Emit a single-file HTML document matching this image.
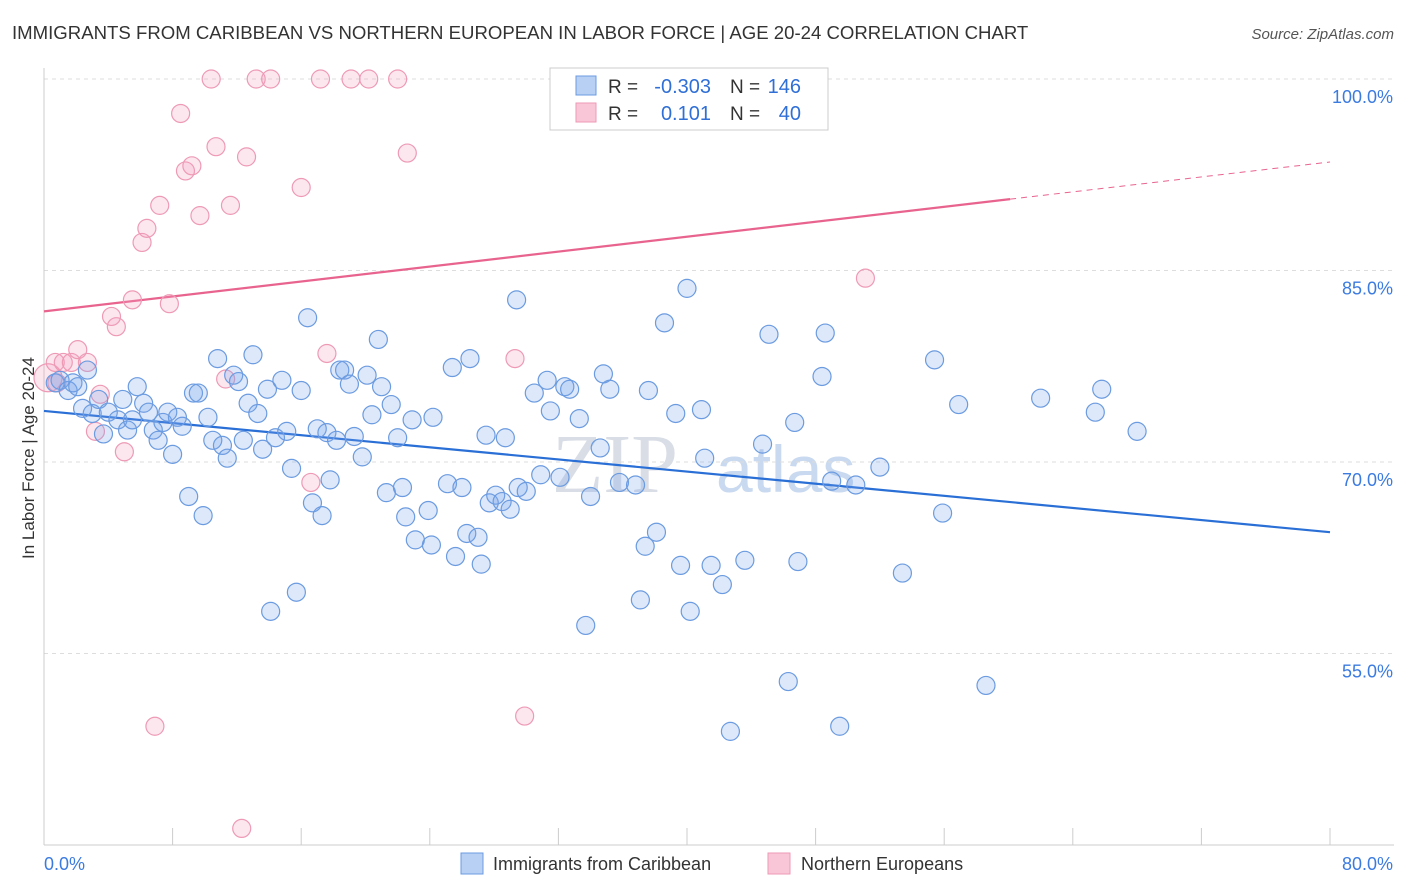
<!DOCTYPE html>
<html><head><meta charset="utf-8">
<style>
body{margin:0;background:#fff;font-family:"Liberation Sans",sans-serif;}
svg{display:block}
</style></head>
<body>
<svg id="chart" width="1406" height="892">
<text x="12" y="39" font-size="18.6" fill="#333">IMMIGRANTS FROM CARIBBEAN VS NORTHERN EUROPEAN IN LABOR FORCE | AGE 20-24 CORRELATION CHART</text>
<text x="1394" y="39" font-size="15" fill="#555" font-style="italic" text-anchor="end">Source: ZipAtlas.com</text>
<text transform="translate(34,458) rotate(-90)" font-size="17" fill="#333" text-anchor="middle">In Labor Force | Age 20-24</text>
<text x="552" y="492" font-size="84" fill="#d8dde6" font-family="Liberation Serif,serif">ZIP</text>
<text x="716" y="492" font-size="66" fill="#c9d9ef">atlas</text>
<g id="grid"></g><g id="axes"></g><g id="lines"></g><g id="pts"></g>
<g>
<rect x="550" y="68" width="278" height="62" fill="#fff" stroke="#ccc"/>
<rect x="576" y="76" width="20" height="19" fill="#b8d0f4" stroke="#6b9be0"/>
<rect x="576" y="103" width="20" height="19" fill="#f8c6d6" stroke="#ee9ab5"/>
<text x="608" y="93" font-size="19" fill="#333">R =</text>
<text x="711" y="93" font-size="20" fill="#2f6fd6" text-anchor="end">-0.303</text>
<text x="730" y="93" font-size="19" fill="#333">N =</text>
<text x="801" y="93" font-size="20" fill="#2f6fd6" text-anchor="end">146</text>
<text x="608" y="120" font-size="19" fill="#333">R =</text>
<text x="711" y="120" font-size="20" fill="#2f6fd6" text-anchor="end">0.101</text>
<text x="730" y="120" font-size="19" fill="#333">N =</text>
<text x="801" y="120" font-size="20" fill="#2f6fd6" text-anchor="end">40</text>
</g>
<g>
<rect x="461" y="853" width="22" height="21" fill="#b8d0f4" stroke="#6b9be0"/>
<text x="493" y="870" font-size="18" fill="#333">Immigrants from Caribbean</text>
<rect x="768" y="853" width="22" height="21" fill="#f8c6d6" stroke="#ee9ab5"/>
<text x="801" y="870" font-size="18" fill="#333">Northern Europeans</text>
</g>
</svg>
<script>
const blueX=[0.7,1.0,1.5,1.8,2.1,2.7,2.4,3.0,3.4,3.7,4.0,4.6,4.9,5.2,5.5,5.8,6.2,6.5,6.8,7.1,7.4,7.7,8.0,8.3,8.6,9.0,9.3,9.6,9.9,10.2,10.5,10.8,11.1,11.4,11.8,12.1,12.4,12.7,13.0,13.3,13.6,13.9,14.1,14.4,14.8,15.1,15.4,15.7,16.0,16.4,16.7,17.0,17.3,17.6,17.8,18.2,18.4,18.7,19.0,19.3,19.8,20.1,20.4,20.8,21.0,21.3,21.6,22.0,22.3,22.5,22.9,23.1,23.9,24.1,24.2,25.1,25.4,25.6,26.0,26.3,26.5,27.0,27.2,27.5,27.7,28.1,28.5,28.7,29.0,29.4,29.5,30.0,30.5,30.9,31.3,31.5,32.1,32.4,32.7,33.3,33.7,34.0,34.6,34.8,35.2,35.8,36.8,37.1,37.4,37.6,38.1,38.6,39.3,39.6,40.0,40.2,40.9,41.1,41.5,42.2,43.6,44.7,45.1,46.3,46.7,46.9,48.4,48.6,49.0,49.5,50.5,52.0,53.4,55.4,55.9,56.9,58.6,62.0,65.4,65.8,68.0,42.7];
const blueY=[76.2,76.4,75.6,76.2,75.9,77.2,74.2,73.8,74.9,72.2,73.9,73.3,74.9,72.5,73.3,75.9,74.6,73.9,72.5,71.7,73.1,73.9,70.6,73.5,72.8,67.3,75.4,75.4,65.8,73.5,71.7,78.1,71.3,70.3,76.8,76.3,71.7,74.6,78.4,73.8,71.0,75.7,58.3,71.9,76.4,72.4,69.5,59.8,75.6,81.3,66.8,72.6,65.8,72.3,68.6,71.7,77.2,77.2,76.1,72.0,70.4,76.8,73.7,79.6,75.9,67.6,74.5,71.9,68.0,65.7,73.3,63.9,66.2,63.5,73.5,68.3,77.4,62.6,68.0,64.4,78.1,64.1,62.0,72.1,66.8,67.4,66.9,71.9,66.3,82.7,68.0,67.7,75.4,69.0,76.4,74.0,68.8,75.9,75.7,73.4,57.2,67.3,71.1,76.9,75.7,68.4,68.2,59.2,63.4,75.6,64.5,80.9,73.8,61.9,83.6,58.3,74.1,70.3,61.9,60.4,62.3,71.4,80.0,52.8,73.1,62.2,76.7,80.1,68.5,49.3,68.2,69.6,61.3,78.0,66.0,74.5,52.5,75.0,73.9,75.7,72.4,48.9];
const pinkX=[0.25,0.7,0.8,1.2,1.7,2.1,2.7,3.2,3.5,4.2,4.5,5.0,5.5,6.1,6.4,6.9,7.2,7.8,8.5,8.8,9.2,9.7,10.4,10.7,11.3,11.6,12.3,12.6,13.2,14.1,16.0,16.6,17.2,17.6,19.1,20.2,22.0,22.6,29.3,29.9,51.1];
const pinkY=[76.6,77.8,76.2,77.8,77.8,78.8,77.8,72.4,75.3,81.4,80.6,70.8,82.7,87.2,88.3,49.3,90.1,82.4,97.3,92.8,93.2,89.3,100,94.7,76.5,90.1,41.3,93.9,100,100,91.5,68.4,100,78.5,100,100,100,94.2,78.1,50.1,84.4];
const yTicks=[55,70,85,100];
const xTickLabels=["0.0%","80.0%"];
const blueTrend=[74.0,64.5];
const pinkTrend=[81.8,93.5];
const pinkSolidEnd=60.1;
const NS="http://www.w3.org/2000/svg";
const X0=44,X1=1330,Y0=845,Y1=79;
const sx=v=>X0+(v/80)*(X1-X0);
const sy=v=>Y0-(v-40)/60*(Y0-Y1);
function mk(t,a,p){const e=document.createElementNS(NS,t);for(const k in a)e.setAttribute(k,a[k]);p.appendChild(e);return e;}
const grid=document.getElementById('grid'),axes=document.getElementById('axes'),lines=document.getElementById('lines'),pts=document.getElementById('pts');
yTicks.forEach(v=>{
 const l=mk('line',{x1:X0,x2:1394,y1:sy(v),y2:sy(v),stroke:'#ddd','stroke-dasharray':'4,4'},grid);
 
 
 const t=mk('text',{x:1393,y:sy(v)+24,'font-size':18,fill:'#3b7be0','text-anchor':'end'},axes);
 t.textContent=v.toFixed(1)+'%';
 
 
});
const ax=mk('line',{x1:X0,x2:X0,y1:68,y2:Y0,stroke:'#ccc'},axes);


const bx=mk('line',{x1:X0,x2:1394,y1:Y0,y2:Y0,stroke:'#ccc'},axes);


for(let i=0;i<=10;i++){
 const tk=mk('line',{x1:sx(i*8),x2:sx(i*8),y1:Y0-17,y2:Y0,stroke:'#ccc'},axes);
 
 
}
[[0,xTickLabels[0],'start'],[80,xTickLabels[1],'end']].forEach(([v,s,a])=>{
 const t=mk('text',{x:v===0?sx(v):1393,y:870,'font-size':18,fill:'#3b7be0','text-anchor':a},axes);
 t.textContent=s;
 
 
});
const bl=mk('line',{x1:sx(0),y1:sy(blueTrend[0]),x2:sx(80),y2:sy(blueTrend[1]),stroke:'#2a6fd6','stroke-width':2.2},lines);


const pm=pinkTrend[0]+(pinkTrend[1]-pinkTrend[0])*pinkSolidEnd/80;
const pl=mk('line',{x1:sx(0),y1:sy(pinkTrend[0]),x2:sx(pinkSolidEnd),y2:sy(pm),stroke:'#e8648f','stroke-width':2.2},lines);


const pd=mk('line',{x1:sx(pinkSolidEnd),y1:sy(pm),x2:sx(80),y2:sy(pinkTrend[1]),stroke:'#e8648f','stroke-width':1,'stroke-dasharray':'6,5'},lines);


pinkX.forEach((x,i)=>{
 const c=mk('circle',{cx:sx(x),cy:sy(pinkY[i]),r:i===0?14:9,fill:'rgba(244,160,190,0.25)',stroke:'#ee9ab5','stroke-width':1.2},pts);
 
 
});
blueX.forEach((x,i)=>{
 const c=mk('circle',{cx:sx(x),cy:sy(blueY[i]),r:9,fill:'rgba(120,165,235,0.25)',stroke:'#6b9be0','stroke-width':1.2},pts);
 
 
});
</script>
</body></html>
